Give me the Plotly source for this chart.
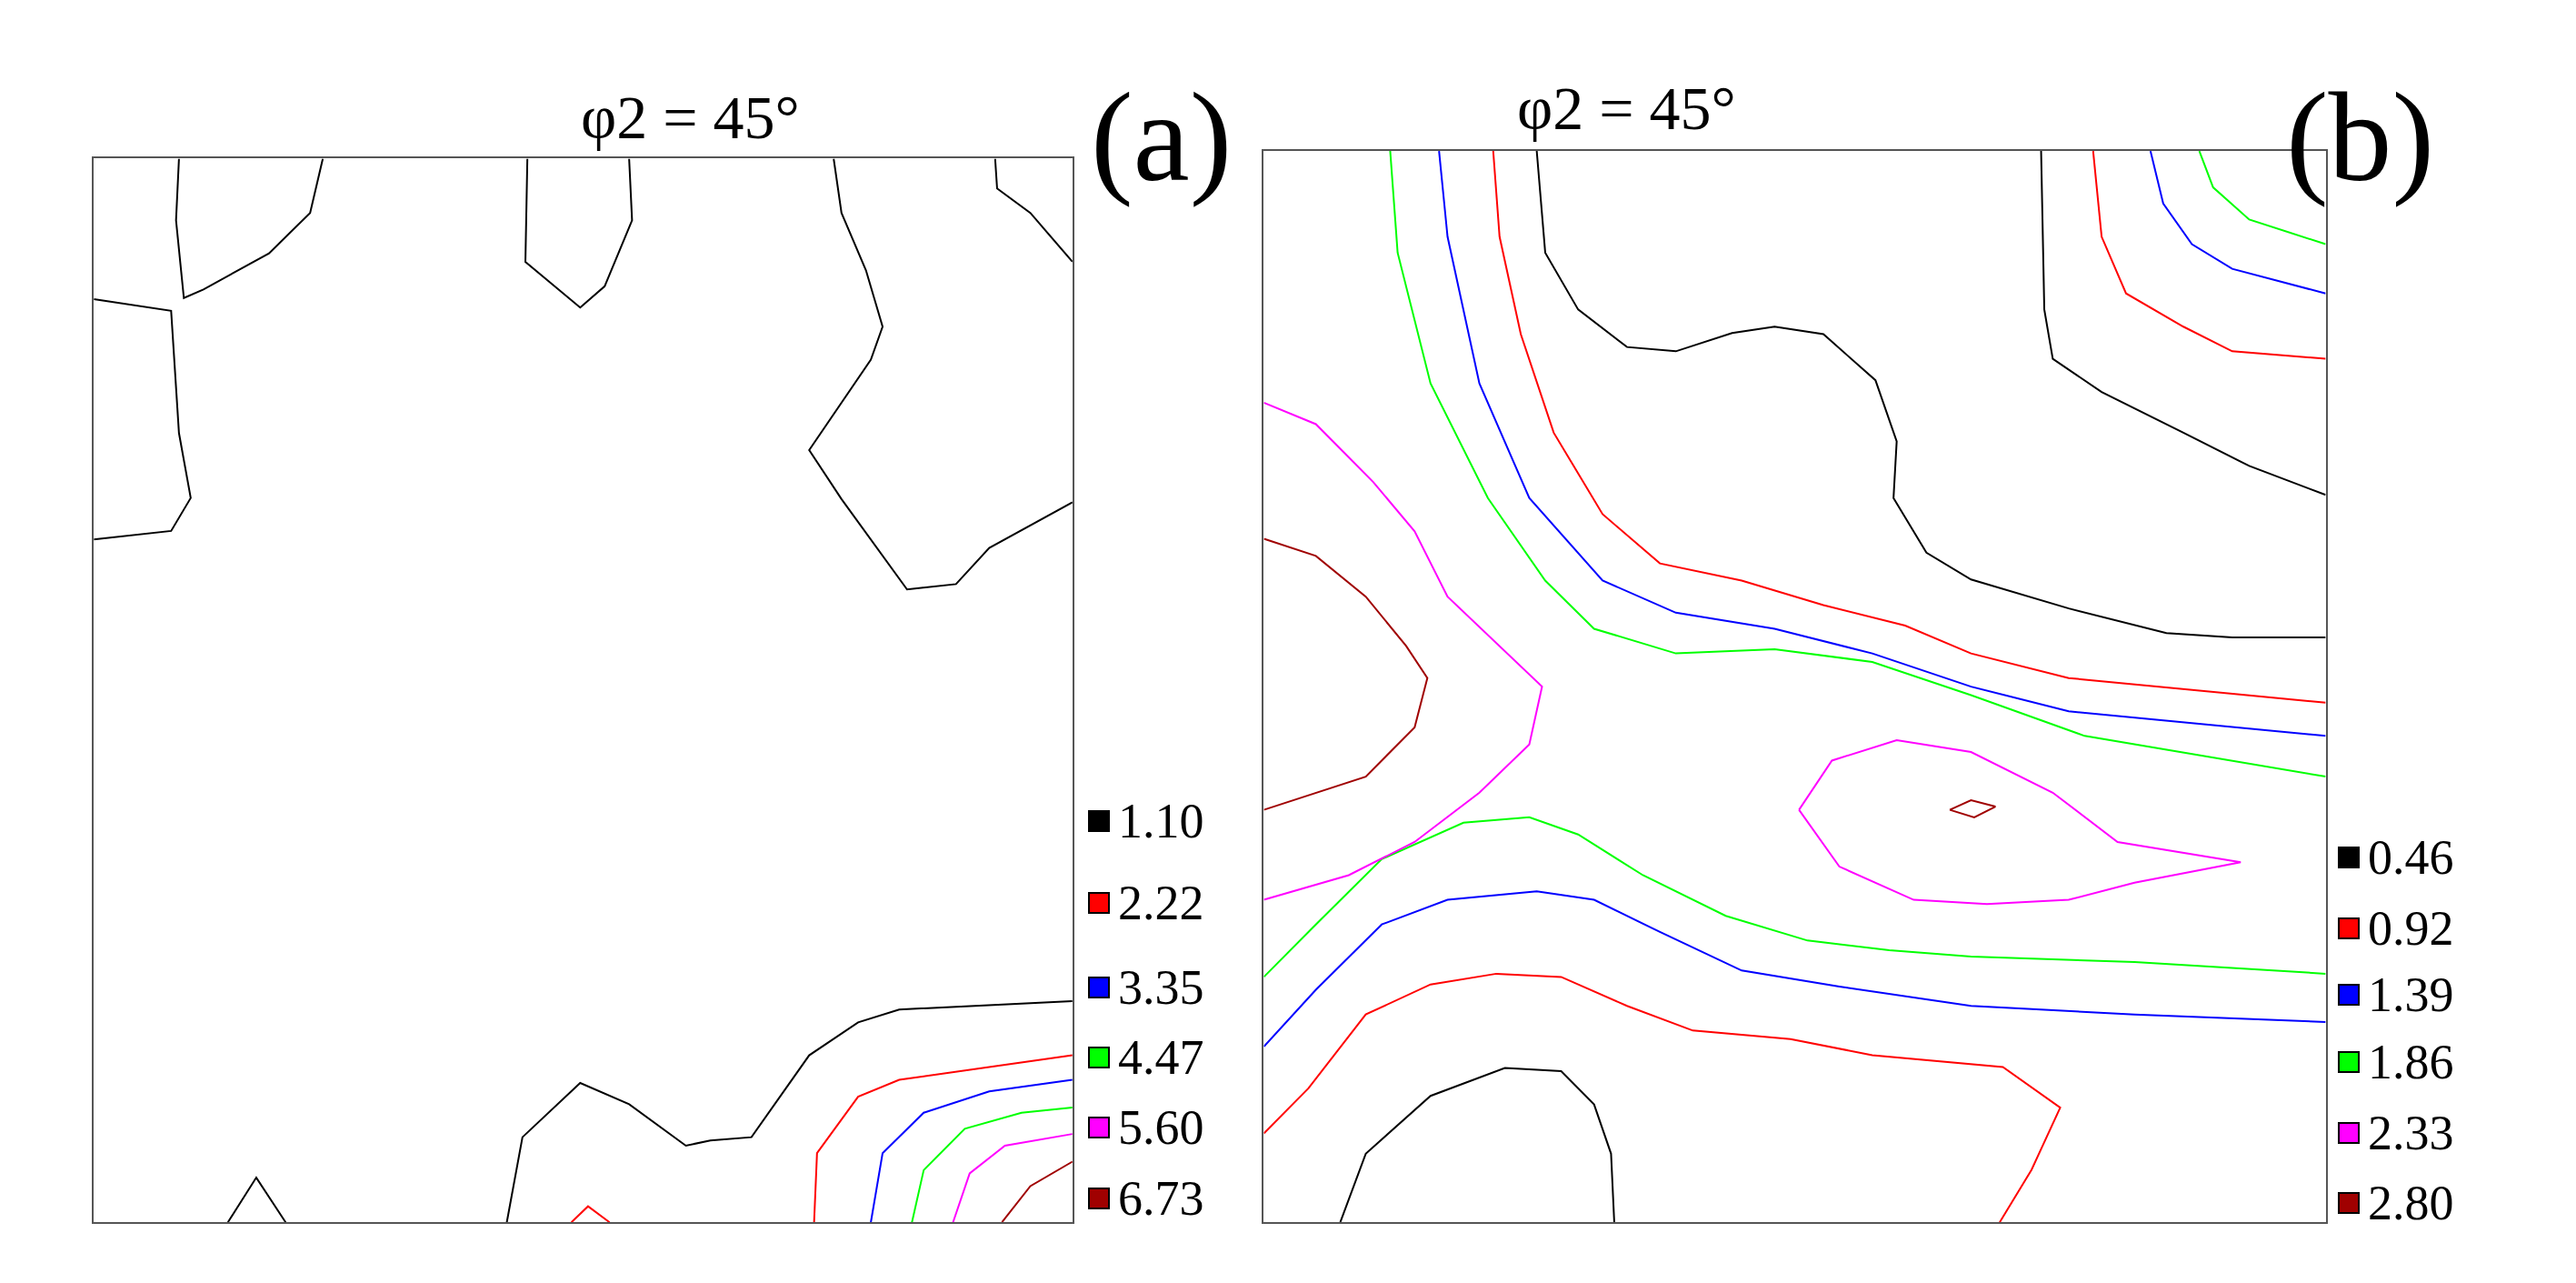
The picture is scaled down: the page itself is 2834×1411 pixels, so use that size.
import plotly.graph_objects as go

# ---- data: contour polylines (x, y in % of the section, y measured from top) ----
levels_a = ["1.10", "2.22", "3.35", "4.47", "5.60", "6.73"]
levels_b = ["0.46", "0.92", "1.39", "1.86", "2.33", "2.80"]
colors = ["#000000", "#ff0000", "#0000ff", "#00ff00", "#ff00ff", "#a00000"]

a_black_1 = [(8.7,0),(8.4,5.8),(9.2,13.1),(11.2,12.3),(17.9,8.9),(22.1,5.1),(23.4,0)]
a_black_2 = [(44.3,0),(44.1,9.7),(49.7,14),(52.2,12),(55,5.8),(54.7,0)]
a_black_3 = [(75.6,0),(76.4,5.1),(78.9,10.5),(80.6,15.8),(79.4,18.9),(73.1,27.4),(76.4,32),(83.1,40.5),(88.1,40),(91.5,36.6),(100,32.3)]
a_black_4 = [(92.1,0),(92.3,2.8),(95.7,5.1),(100,9.7)]
a_black_5 = [(0,13.2),(7.9,14.3),(8.7,25.8),(9.9,31.9),(7.9,35),(0,35.8)]
a_black_6 = [(42.2,100),(43.8,92),(49.7,86.9),(54.7,88.9),(60.5,92.8),(63,92.3),(67.2,92),(73.1,84.3),(78.1,81.2),(82.3,80),(100,79.2)]
a_black_7 = [(13.7,100),(16.6,95.8),(19.6,100)]
a_red_1 = [(48.8,100),(50.5,98.5),(52.7,100)]
a_red_2 = [(73.6,100),(73.9,93.5),(78.1,88.2),(82.3,86.6),(100,84.3)]
a_blue_1 = [(79.4,100),(80.6,93.5),(84.8,89.7),(91.5,87.7),(100,86.6)]
a_green_1 = [(83.6,100),(84.8,95.1),(89,91.2),(94.8,89.7),(100,89.2)]
a_mag_1 = [(87.8,100),(89.5,95.4),(93.1,92.8),(100,91.7)]
a_dred_1 = [(92.8,100),(95.7,96.6),(100,94.3)]

b_black_1 = [(25.7,0),(26.5,9.5),(29.6,14.8),(34.2,18.3),(38.8,18.7),(44.1,17),(48.1,16.4),(52.7,17.1),(57.6,21.4),(59.6,27.1),(59.3,32.4),(62.4,37.5),(66.6,40),(75.8,42.7),(85,45),(91.2,45.4),(100,45.4)]
b_black_2 = [(73.2,0),(73.5,14.8),(74.3,19.4),(78.9,22.5),(86.6,26.3),(92.8,29.4),(100,32.1)]
b_black_3 = [(7.2,100),(9.6,93.6),(15.7,88.2),(22.7,85.6),(28,85.9),(31.1,89),(32.7,93.6),(33,100)]
b_red_1 = [(21.6,0),(22.2,8),(24.2,17.1),(27.3,26.3),(31.9,33.9),(37.3,38.5),(45,40.1),(52.7,42.4),(60.4,44.3),(66.6,46.9),(75.8,49.2),(100,51.5)]
b_red_2 = [(78.1,0),(78.9,8),(81.2,13.3),(86.6,16.4),(91.2,18.7),(100,19.4)]
b_red_3 = [(0,91.7),(4.2,87.5),(9.6,80.6),(15.7,77.8),(21.9,76.8),(28,77.1),(34.2,79.8),(40.4,82.1),(49.6,82.9),(57.3,84.4),(69.6,85.5),(75,89.3),(72.3,95.1),(69.3,100)]
b_blue_1 = [(16.5,0),(17.3,8),(20.3,21.7),(25,32.4),(31.9,40.1),(38.8,43.1),(48.1,44.6),(57.3,46.9),(66.6,50),(75.8,52.3),(100,54.6)]
b_blue_2 = [(83.5,0),(84.7,4.9),(87.4,8.7),(91.2,11),(100,13.3)]
b_blue_3 = [(0,83.6),(4.9,78.3),(11.1,72.2),(17.3,69.9),(25.7,69.1),(31.1,69.9),(37.3,72.9),(45,76.5),(54.2,78),(66.6,79.8),(82,80.6),(100,81.3)]
b_green_1 = [(11.9,0),(12.6,9.5),(15.7,21.7),(21.1,32.4),(26.5,40.1),(31.1,44.6),(38.8,46.9),(48.1,46.5),(57.3,47.7),(66.6,50.8),(77.3,54.6),(100,58.4)]
b_green_2 = [(88.1,0),(89.4,3.4),(92.8,6.4),(100,8.7)]
b_green_3 = [(0,77.1),(4.9,72.2),(11.1,66.1),(18.8,62.7),(25,62.2),(29.6,63.8),(35.7,67.6),(43.5,71.4),(51.2,73.7),(58.9,74.6),(66.6,75.2),(82,75.7),(100,76.8)]
b_mag_1 = [(0,23.5),(4.9,25.5),(10.3,30.9),(14.2,35.5),(17.3,41.6),(26.2,50),(25,55.4),(20.3,59.9),(14.2,64.5),(8,67.6),(0,69.9)]
b_mag_2 = [(50.4,61.5),(53.5,56.9),(59.6,55),(66.6,56.1),(74.3,59.9),(80.4,64.5),(92,66.4),(82,68.3),(75.8,69.9),(68.1,70.3),(61.2,69.9),(54.2,66.8),(50.4,61.5)]
b_dred_1 = [(0,36.2),(4.9,37.8),(9.6,41.6),(13.4,46.2),(15.4,49.2),(14.2,53.8),(9.6,58.4),(0,61.5)]
b_dred_2 = [(64.6,61.5),(66.6,60.6),(68.9,61.2),(66.9,62.2),(64.6,61.5)]

lines_a = [(0,a_black_1),(0,a_black_2),(0,a_black_3),(0,a_black_4),(0,a_black_5),(0,a_black_6),(0,a_black_7),
           (1,a_red_1),(1,a_red_2),(2,a_blue_1),(3,a_green_1),(4,a_mag_1),(5,a_dred_1)]
lines_b = [(0,b_black_1),(0,b_black_2),(0,b_black_3),(1,b_red_1),(1,b_red_2),(1,b_red_3),
           (2,b_blue_1),(2,b_blue_2),(2,b_blue_3),(3,b_green_1),(3,b_green_2),(3,b_green_3),
           (4,b_mag_1),(4,b_mag_2),(5,b_dred_1),(5,b_dred_2)]

fig = go.Figure()
for lv, pts in lines_a:
    fig.add_trace(go.Scatter(x=[p[0] for p in pts], y=[p[1] for p in pts], mode="lines",
                             line=dict(color=colors[lv], width=2), xaxis="x", yaxis="y", showlegend=False, hoverinfo="skip"))
for lv, pts in lines_b:
    fig.add_trace(go.Scatter(x=[p[0] for p in pts], y=[p[1] for p in pts], mode="lines",
                             line=dict(color=colors[lv], width=2), xaxis="x2", yaxis="y2", showlegend=False, hoverinfo="skip"))

ax = dict(range=[0, 100], showgrid=False, zeroline=False, showticklabels=False, ticks="",
          showline=True, linecolor="#555", linewidth=2, mirror=True)
ay = dict(ax, range=[100, 0])
fig.update_layout(
    width=2834, height=1411, paper_bgcolor="white", plot_bgcolor="white",
    margin=dict(l=0, r=0, t=0, b=0),
    xaxis=dict(ax, domain=[0.0336, 0.4135]), yaxis=dict(ay, domain=[0.053, 0.882], anchor="x"),
    xaxis2=dict(ax, domain=[0.4878, 0.900], anchor="y2"), yaxis2=dict(ay, domain=[0.053, 0.888], anchor="x2"),
    font=dict(family="Liberation Serif", color="black"),
)

ann = []
shapes = []
ann.append(dict(x=0.222, y=0.886, xref="paper", yref="paper", text="φ2 = 45°", showarrow=False, font=dict(size=68), yanchor="bottom"))
ann.append(dict(x=0.672, y=0.893, xref="paper", yref="paper", text="φ2 = 45°", showarrow=False, font=dict(size=68), yanchor="bottom"))
ann.append(dict(x=0.448, y=0.955, xref="paper", yref="paper", text="(a)", showarrow=False, font=dict(size=140)))
ann.append(dict(x=0.943, y=0.955, xref="paper", yref="paper", text="(b)", showarrow=False, font=dict(size=140)))

def legend(levels, x0, ytops):
    for i, (lab, yc) in enumerate(zip(levels, ytops)):
        yp = 1 - yc / 1411
        shapes.append(dict(type="rect", xref="paper", yref="paper", x0=x0, x1=x0 + 22/2834,
                           y0=yp - 11/1411, y1=yp + 11/1411, fillcolor=colors[i], line=dict(color="black", width=2)))
        ann.append(dict(x=x0 + 30/2834, y=yp, xref="paper", yref="paper", text=lab, showarrow=False,
                        xanchor="left", yanchor="middle", font=dict(size=54)))

legend(levels_a, 1190/2834, [895, 985, 1078, 1155, 1232, 1310])
legend(levels_b, 2565/2834, [935, 1013, 1086, 1160, 1238, 1315])
fig.update_layout(annotations=ann, shapes=shapes)
fig.write_html("out.html")
